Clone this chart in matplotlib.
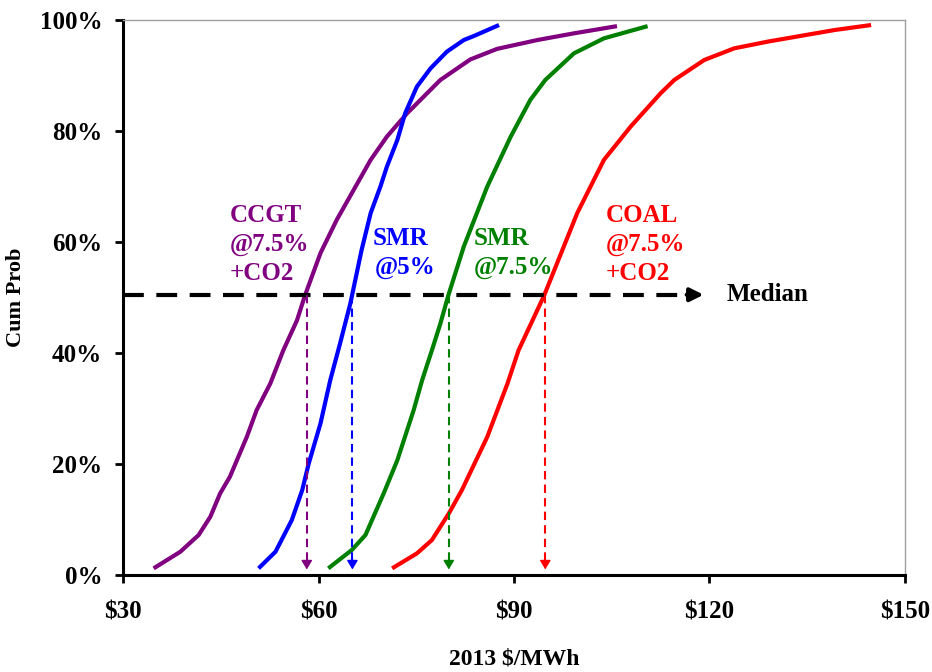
import matplotlib
matplotlib.use("Agg")
import matplotlib.pyplot as plt

# ---- data ----
ccgt_x = [34.7, 38.8, 41.6, 43.4, 44.9, 46.4, 49.0, 50.5, 52.6, 54.6, 56.7, 57.9, 60.3, 62.8,
          65.4, 68.0, 70.5, 73.6, 78.7, 83.3, 87.4, 93.6, 99.2, 105.8]
ccgt_y = [1.2, 4.2, 7.2, 10.5, 14.7, 17.7, 24.9, 29.7, 34.5, 40.5, 45.9, 50.3, 58.0, 64.0,
          69.4, 74.8, 79.0, 83.2, 89.2, 92.9, 94.8, 96.4, 97.6, 98.9]

smr5_x = [50.8, 53.4, 55.9, 57.5, 58.5, 60.3, 61.8, 63.3, 64.9, 66.6, 68.0, 69.5, 70.5, 72.1,
          73.3, 75.1, 77.2, 79.7, 82.3, 83.8, 87.7]
smr5_y = [1.2, 4.2, 9.9, 15.3, 20.1, 27.3, 35.1, 41.7, 49.0, 58.5, 65.2, 70.0, 73.6, 78.4,
          83.2, 88.0, 91.3, 94.3, 96.4, 97.1, 99.1]

smr75_x = [61.5, 65.1, 67.2, 70.0, 72.1, 74.6, 75.9, 77.4, 78.7, 79.9, 82.3, 85.9, 89.5, 92.5,
           94.8, 99.2, 103.8, 110.5]
smr75_y = [1.2, 4.5, 7.2, 14.7, 20.7, 29.7, 35.1, 40.5, 45.3, 50.3, 59.2, 70.0, 79.0, 85.6,
           89.2, 94.0, 96.7, 98.9]

coal_x = [71.3, 75.1, 77.4, 80.0, 82.0, 85.9, 89.0, 90.7, 94.6, 99.7, 103.8, 107.9, 112.5,
          114.6, 119.2, 123.8, 128.9, 139.2, 144.8]
coal_y = [1.2, 3.9, 6.3, 11.1, 15.3, 24.9, 34.5, 40.5, 50.3, 65.2, 74.8, 80.8, 86.8,
          89.2, 92.8, 94.9, 96.1, 98.2, 99.1]

medians = [58.2, 65.2, 80.0, 94.8]
median_level = 50.5
median_line_end = 119.1

x_ticks = [30, 60, 90, 120, 150]
x_tick_labels = [r"\$30", r"\$60", r"\$90", r"\$120", r"\$150"]
y_ticks = [0, 20, 40, 60, 80, 100]
y_tick_labels = ["0%", "20%", "40%", "60%", "80%", "100%"]

colors = ["#800080", "#0000FF", "#008000", "#FF0000"]

# ---- figure ----
plt.rcParams['font.family'] = ['Liberation Serif', 'DejaVu Serif']
plt.rcParams['font.weight'] = 'bold'

fig = plt.figure(figsize=(9.32, 6.72), dpi=100)
ax = fig.add_axes([0.132, 0.1443, 0.839, 0.8259])

series = [(ccgt_x, ccgt_y), (smr5_x, smr5_y), (smr75_x, smr75_y), (coal_x, coal_y)]
for (xs, ys), c in zip(series, colors):
    ax.plot(xs, ys, color=c, lw=3.0, solid_capstyle='butt', zorder=3)

# horizontal median line with arrow
ax.plot([30, median_line_end - 1.6], [median_level, median_level], color='black', lw=3.0,
        dashes=(5, 3), zorder=4)
ax.annotate("", xy=(median_line_end, median_level), xytext=(median_line_end - 2.6, median_level),
            arrowprops=dict(arrowstyle="-|>,head_length=0.6,head_width=0.3", color='black',
                            lw=3.0, shrinkA=0, shrinkB=0, mutation_scale=13), zorder=4)
ax.text(median_line_end + 3.5, median_level, "Median", fontsize=18, fontweight='bold',
        ha='left', va='center', color='black')

# vertical median arrows
for m, c in zip(medians, colors):
    ax.plot([m, m], [median_level, 2.5], color=c, lw=1.5, dashes=(4, 2.5), zorder=5)
    ax.annotate("", xy=(m, 1.0), xytext=(m, 3.0),
                arrowprops=dict(arrowstyle="-|>,head_length=0.5,head_width=0.3", color=c,
                                lw=1.0, shrinkA=0, shrinkB=0, mutation_scale=11), zorder=5)

# labels
fs = 18
ax.text(46.4, 63.6, "CCGT", color=colors[0], fontsize=fs, fontweight='bold', ha='left', va='baseline')
ax.text(46.4, 58.4, "@7.5%", color=colors[0], fontsize=fs, fontweight='bold', ha='left', va='baseline')
ax.text(46.4, 53.2, "+CO2", color=colors[0], fontsize=fs, fontweight='bold', ha='left', va='baseline')

ax.text(68.3, 59.5, "SMR", color=colors[1], fontsize=fs, fontweight='bold', ha='left', va='baseline')
ax.text(68.6, 54.3, "@5%", color=colors[1], fontsize=fs, fontweight='bold', ha='left', va='baseline')

ax.text(83.8, 59.5, "SMR", color=colors[2], fontsize=fs, fontweight='bold', ha='left', va='baseline')
ax.text(83.9, 54.3, "@7.5%", color=colors[2], fontsize=fs, fontweight='bold', ha='left', va='baseline')

ax.text(104.1, 63.6, "COAL", color=colors[3], fontsize=fs, fontweight='bold', ha='left', va='baseline')
ax.text(104.1, 58.4, "@7.5%", color=colors[3], fontsize=fs, fontweight='bold', ha='left', va='baseline')
ax.text(104.1, 53.2, "+CO2", color=colors[3], fontsize=fs, fontweight='bold', ha='left', va='baseline')

# axes
ax.set_xlim(30, 150)
ax.set_ylim(0, 100)
ax.set_xticks(x_ticks)
ax.set_xticklabels(x_tick_labels, fontsize=18, fontweight='bold')
ax.set_yticks(y_ticks)
ax.set_yticklabels(y_tick_labels, fontsize=18, fontweight='bold')
ax.tick_params(axis='both', direction='out', length=6, width=2, colors='black')
ax.tick_params(axis='x', pad=12)
ax.tick_params(axis='y', pad=9)

for s in ['left', 'bottom']:
    ax.spines[s].set_color('black')
    ax.spines[s].set_linewidth(2.2)
for s in ['top', 'right']:
    ax.spines[s].set_color('#A0A0A0')
    ax.spines[s].set_linewidth(1.0)

ax.set_xlabel(r"2013 \$/MWh", fontsize=17, fontweight='bold', labelpad=18)
ax.set_ylabel("Cum Prob", fontsize=16, fontweight='bold', labelpad=10)

fig.savefig("out.png", dpi=100)
